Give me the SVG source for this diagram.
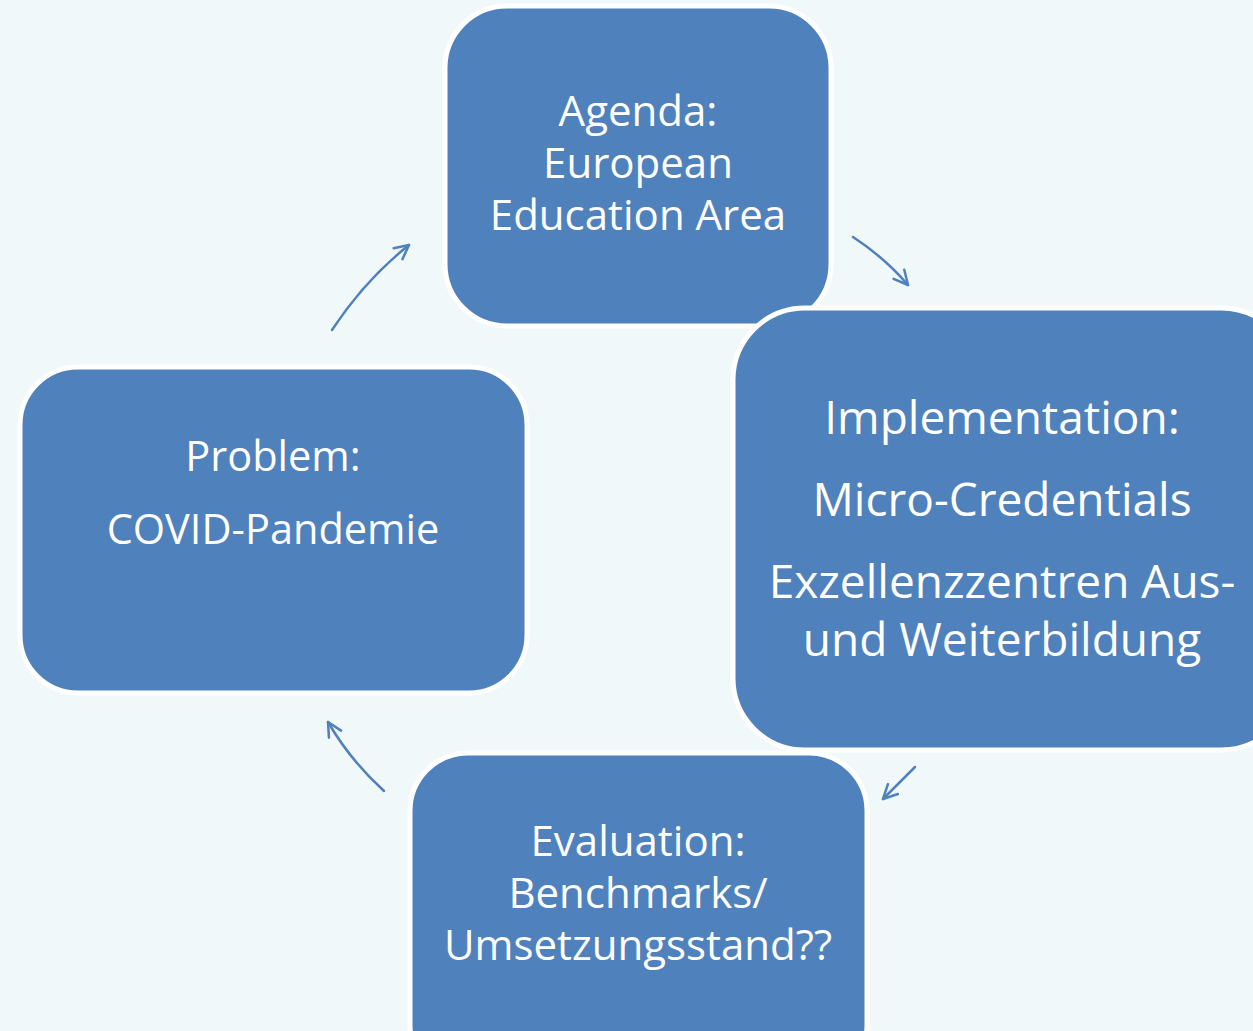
<svg xmlns="http://www.w3.org/2000/svg" width="1253" height="1031" viewBox="0 0 1253 1031">
<style>
.box{fill:#4F81BD;stroke:#FFFFFF;stroke-width:5}
.t{fill:#FFFFFF;font-family:"Open Sans","Noto Sans",sans-serif;text-anchor:middle}
.c{fill:none;stroke:#4F81BD;stroke-width:2.5;stroke-linecap:round}
</style>
<defs>
<marker id="ah" viewBox="0 0 20 20" refX="18" refY="10" markerWidth="20" markerHeight="20" markerUnits="userSpaceOnUse" orient="auto">
<path d="M4,3 L18,10 L4,17" fill="none" stroke="#4F81BD" stroke-width="2.5" stroke-linecap="round" stroke-linejoin="round"/>
</marker>
</defs>
<rect width="1253" height="1031" fill="#F0F8FA"/>
<g id="connectors">
<path class="c" d="M332,330 Q365,280 409,245" marker-end="url(#ah)"/>
<path class="c" d="M853,237 Q885,258 908,285" marker-end="url(#ah)"/>
<path class="c" d="M915,767 L883,799" marker-end="url(#ah)"/>
<path class="c" d="M384,791 Q350,760 328,722" marker-end="url(#ah)"/>
</g>
<g id="agenda">
<rect class="box" x="445" y="6" width="386" height="320" rx="62"/>
<text class="t" font-size="42" x="638" y="126">Agenda:</text>
<text class="t" font-size="42" x="638" y="178">European</text>
<text class="t" font-size="42" x="638" y="230">Education Area</text>
</g>
<g id="problem">
<rect class="box" x="20" y="367" width="507" height="326" rx="58"/>
<text class="t" font-size="41.5" x="273" y="471">Problem:</text>
<text class="t" font-size="41.5" x="273" y="544">COVID-Pandemie</text>
</g>
<g id="implementation">
<rect class="box" x="733" y="308" width="560" height="442" rx="72"/>
<text class="t" font-size="46" x="1002" y="434">Implementation:</text>
<text class="t" font-size="46" x="1002" y="516">Micro-Credentials</text>
<text class="t" font-size="46" x="1002" y="598">Exzellenzzentren Aus-</text>
<text class="t" font-size="46" x="1002" y="656">und Weiterbildung</text>
</g>
<g id="evaluation">
<rect class="box" x="410" y="753" width="457" height="330" rx="58"/>
<text class="t" font-size="42" x="638" y="856">Evaluation:</text>
<text class="t" font-size="42" x="638" y="908">Benchmarks/</text>
<text class="t" font-size="42" x="638" y="960">Umsetzungsstand??</text>
</g>
</svg>
